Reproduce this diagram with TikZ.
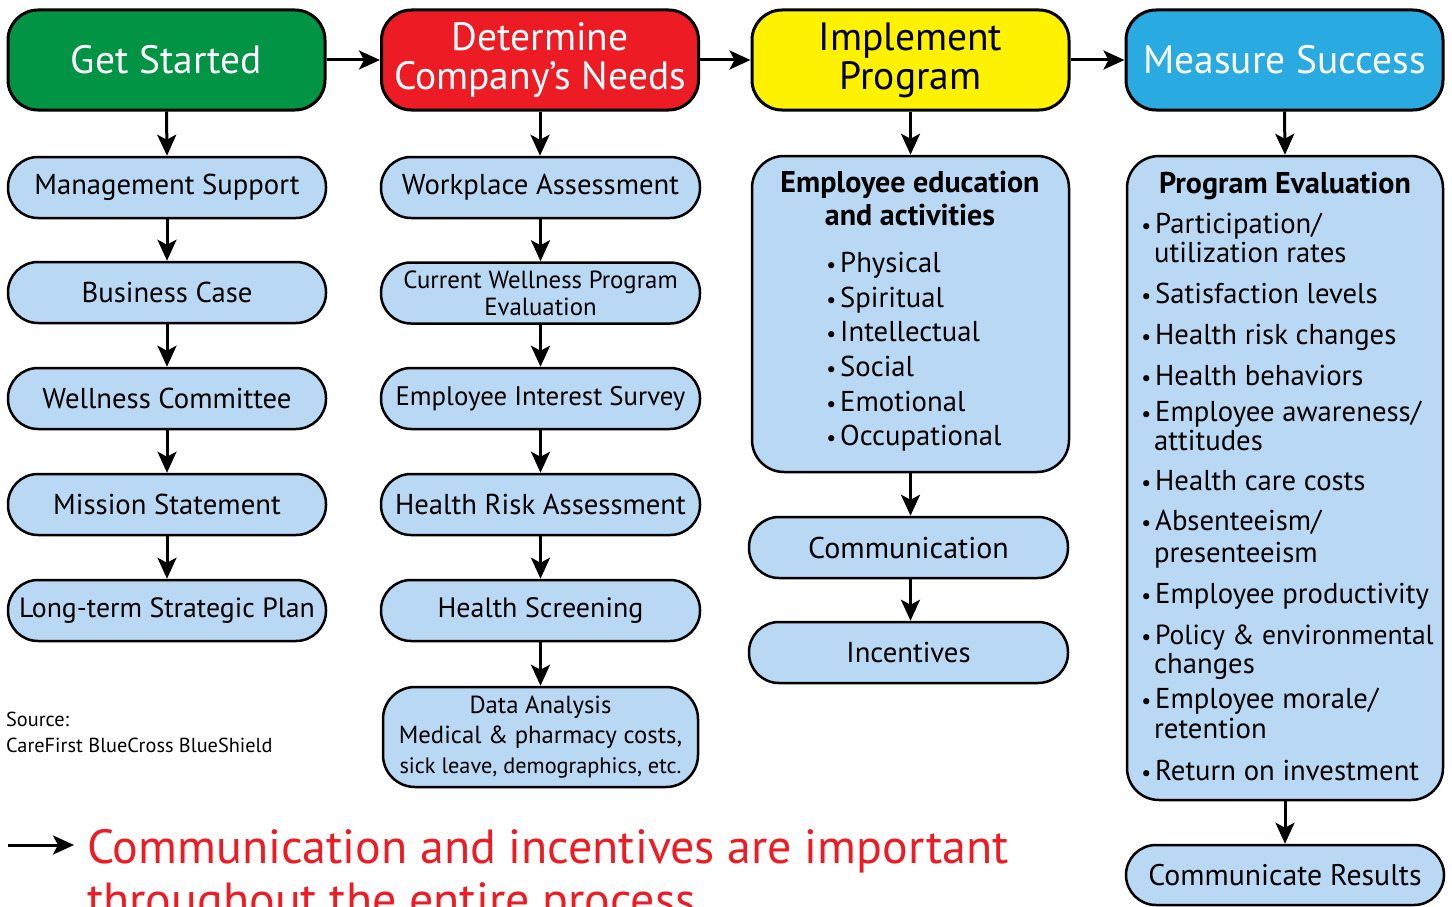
\documentclass[tikz,border=0pt]{standalone}
\usepackage{fontspec}
\setmainfont{PT Sans}
\usetikzlibrary{arrows.meta}
\definecolor{gsgreen}{HTML}{009444}
\definecolor{gsred}{HTML}{ED1C24}
\definecolor{gsyellow}{HTML}{FFF200}
\definecolor{gsblue}{HTML}{29ABE2}
\definecolor{lblue}{HTML}{B9D8F3}
\newcommand{\bul}{\llap{\fontsize{22}{22}\selectfont •\kern4pt}}
\begin{document}
\begin{tikzpicture}[x=1pt,y=-1pt,
 head/.style={draw=black, line width=3pt, rounded corners=30pt, minimum width=317pt, minimum height=100pt, inner sep=0pt, align=center, font=\fontsize{39.5}{39}\selectfont},
 pill/.style={draw=black, line width=2.5pt, fill=lblue, rounded corners=30pt, minimum width=318pt, minimum height=61pt, inner sep=0pt, align=center, font=\fontsize{28.7}{28}\selectfont},
 bigbox/.style={draw=black, line width=2.5pt, fill=lblue, rounded corners=32pt, inner sep=0pt},
 arr/.style={line width=3pt, -{Stealth[length=21pt,width=19pt,inset=5pt]}},
 itm/.style={anchor=base west, inner sep=0pt, font=\fontsize{28.7}{28}\selectfont},
 hdg/.style={anchor=base, inner sep=0pt, font=\fontsize{30}{30}\selectfont\bfseries},
]
\clip (0,0) rectangle (1452,907);
\fill[white] (0,0) rectangle (1452,907);
% headers
\node[head, fill=gsgreen, text=white] (gs) at (166.5,60) {Get Started};
\node[head, fill=gsred, text=white] (dcn) at (540,60) {Determine\\Company’s Needs};
\node[head, fill=gsyellow, text=black] (imp) at (910.5,60) {Implement\\Program};
\node[head, fill=gsblue, text=white] (ms) at (1284.5,60) {Measure Success};
% column 1
\node[pill] (c1a) at (167,187.5) {Management Support};
\node[pill] (c1b) at (167,292.5) {Business Case};
\node[pill] (c1c) at (167,398.5) {Wellness Committee};
\node[pill] (c1d) at (167,504.5) {Mission Statement};
\node[pill, font=\fontsize{27.8}{28}\selectfont] (c1e) at (167,610.5) {Long-term Strategic Plan};
% column 2
\node[pill, minimum width=319pt] (c2a) at (540.5,187.5) {Workplace Assessment};
\node[pill, minimum width=319pt, font=\fontsize{24.8}{27}\selectfont] (c2b) at (540.5,293) {Current Wellness Program\\Evaluation};
\node[pill, minimum width=319pt, font=\fontsize{26.8}{28}\selectfont] (c2c) at (540.5,398.5) {Employee Interest Survey};
\node[pill, minimum width=319pt] (c2d) at (540.5,504.5) {Health Risk Assessment};
\node[pill, minimum width=319pt, font=\fontsize{28}{28}\selectfont] (c2e) at (540.5,610.5) {Health Screening};
\node[bigbox, minimum width=315pt, minimum height=100pt, align=center, font=\fontsize{24.7}{30}\selectfont] (c2f) at (540.5,737) {Data Analysis\\Medical \& pharmacy costs,\\{\fontsize{22.3}{30}\selectfont sick leave, demographics, etc.}};
% column 3
\node[bigbox, minimum width=317pt, minimum height=316pt] (c3a) at (910.5,314) {};
\node[pill, minimum width=319pt, font=\fontsize{30}{28}\selectfont] (c3b) at (908.5,547.5) {Communication};
\node[pill, minimum width=319pt] (c3c) at (908.5,652.5) {Incentives};
\node[hdg] (e0) at (910,192) {Employee education};
\node[hdg] (e1) at (910,225) {and activities};
\node[itm] (e2) at (840,272) {\bul Physical};
\node[itm] (e3) at (840,307) {\bul Spiritual};
\node[itm] (e4) at (840,341) {\bul Intellectual};
\node[itm] (e5) at (840,376) {\bul Social};
\node[itm] (e6) at (840,411) {\bul Emotional};
\node[itm] (e7) at (840,445) {\bul Occupational};
% column 4
\node[bigbox, minimum width=316pt, minimum height=644pt] (c4a) at (1285,478) {};
\node[pill, minimum width=318pt, minimum height=60pt, font=\fontsize{29.8}{28}\selectfont] (c4b) at (1285,875) {Communicate Results};
\node[hdg] (p0) at (1285,193) {Program Evaluation};
\node[itm] (p1) at (1155,233) {\bul Participation/};
\node[itm] (p2) at (1154,262) {utilization rates};
\node[itm] (p3) at (1155,303) {\bul Satisfaction levels};
\node[itm] (p4) at (1155,344) {\bul Health risk changes};
\node[itm] (p5) at (1155,385) {\bul Health behaviors};
\node[itm] (p6) at (1155,421) {\bul Employee awareness/};
\node[itm] (p7) at (1154,450) {attitudes};
\node[itm] (p8) at (1155,490) {\bul Health care costs};
\node[itm] (p9) at (1155,530) {\bul Absenteeism/};
\node[itm] (p10) at (1154,562) {presenteeism};
\node[itm] (p11) at (1155,603) {\bul Employee productivity};
\node[itm, font=\fontsize{27.6}{28}\selectfont] (p12) at (1155,644) {\bul Policy \& environmental};
\node[itm] (p13) at (1154,673) {changes};
\node[itm] (p14) at (1155,708) {\bul Employee morale/};
\node[itm] (p15) at (1154,738) {retention};
\node[itm] (p16) at (1155,780) {\bul Return on investment};
% arrows
\draw[arr] (gs) -- (dcn);
\draw[arr] (dcn) -- (imp);
\draw[arr] (imp) -- (ms);
\draw[arr] (gs.south) -- (c1a.north);
\draw[arr] (c1a) -- (c1b);
\draw[arr] (c1b) -- (c1c);
\draw[arr] (c1c) -- (c1d);
\draw[arr] (c1d) -- (c1e);
\draw[arr] (dcn.south) -- (dcn.south |- c2a.north);
\draw[arr] (c2a) -- (c2b);
\draw[arr] (c2b) -- (c2c);
\draw[arr] (c2c) -- (c2d);
\draw[arr] (c2d) -- (c2e);
\draw[arr] (c2e) -- (c2f);
\draw[arr] (imp.south) -- (c3a.north);
\draw[arr] (c3a.south) -- (c3a.south |- c3b.north);
\draw[arr] (c3a.south |- c3b.south) -- (c3a.south |- c3c.north);
\draw[arr] (ms.south) -- (c4a.north);
\draw[arr] (c4a) -- (c4b);
% source
\node[anchor=base west, inner sep=0pt, font=\fontsize{20.3}{20}\selectfont] (src1) at (6,726) {Source:};
\node[anchor=base west, inner sep=0pt, font=\fontsize{20.3}{20}\selectfont] (src2) at (6,752) {CareFirst BlueCross BlueShield};
% bottom note
\coordinate (n0) at (8,845);
\coordinate (n1) at (74,845);
\draw[arr] (n0) -- (n1);
\node[anchor=base west, inner sep=0pt, text=gsred, font=\fontsize{47.9}{48}\selectfont] (note1) at (87,863) {Communication and incentives are important};
\node[anchor=base west, inner sep=0pt, text=gsred, font=\fontsize{47.9}{48}\selectfont] (note2) at (87,916) {throughout the entire process};
\end{tikzpicture}
\end{document}
